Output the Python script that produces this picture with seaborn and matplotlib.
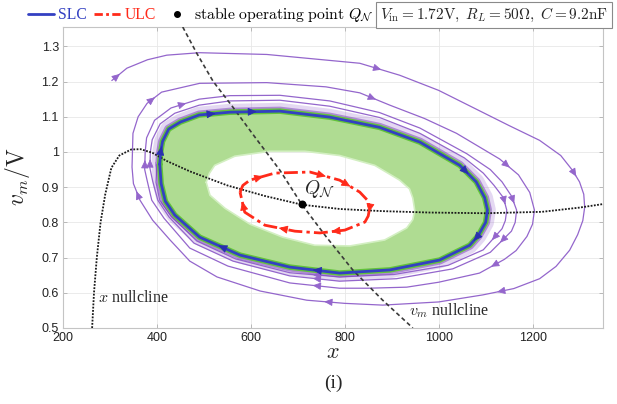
import numpy as np
import matplotlib
matplotlib.use("Agg")
import matplotlib.pyplot as plt
import seaborn as sns
from matplotlib.path import Path
from matplotlib.patches import PathPatch
from matplotlib.lines import Line2D

# ---------------- data ----------------
# stable limit cycle (outer edge of green band), clockwise from the left
slc_x = [406, 408, 412, 425, 450, 490, 555, 662, 768, 874, 960, 1045, 1080, 1098, 1104, 1100, 1084, 1066, 1002, 896, 789, 683, 577, 491, 438, 418, 409]
slc_y = [0.965, 1.000, 1.030, 1.065, 1.085, 1.105, 1.113, 1.116, 1.099, 1.070, 1.028, 0.962, 0.915, 0.870, 0.835, 0.800, 0.762, 0.735, 0.693, 0.665, 0.656, 0.673, 0.707, 0.758, 0.821, 0.860, 0.910]

# inner (white) boundary of the green band
inner_x = [505, 512, 523, 566, 640, 715, 789, 864, 917, 938, 945, 949, 945, 932, 885, 811, 736, 668, 598, 545, 513]
inner_y = [0.914, 0.940, 0.962, 0.988, 1.002, 1.002, 0.990, 0.962, 0.920, 0.895, 0.869, 0.835, 0.808, 0.784, 0.750, 0.733, 0.735, 0.758, 0.795, 0.840, 0.877]

# unstable limit cycle
ulc_x = [577, 583, 598, 651, 726, 789, 832, 849, 853, 850, 843, 800, 747, 694, 630, 587]
ulc_y = [0.886, 0.905, 0.920, 0.940, 0.943, 0.920, 0.886, 0.862, 0.840, 0.818, 0.801, 0.778, 0.770, 0.775, 0.792, 0.829]

# outer trajectory, turn by turn
loop1_x = [304, 336, 380, 421, 491, 634, 832, 917, 1000, 1072, 1150, 1215, 1260, 1285, 1300, 1309, 1311, 1307, 1296, 1279, 1250, 1215, 1160, 1094, 1000, 881, 800, 719, 620, 528, 470, 428, 391]
loop1_y = [1.203, 1.238, 1.262, 1.275, 1.282, 1.277, 1.252, 1.218, 1.175, 1.127, 1.075, 1.033, 0.990, 0.948, 0.915, 0.880, 0.843, 0.805, 0.765, 0.721, 0.675, 0.640, 0.612, 0.594, 0.574, 0.565, 0.570, 0.579, 0.605, 0.645, 0.690, 0.750, 0.806]
loop2_x = [364, 350, 347, 349, 360, 379, 410, 491, 634, 760, 832, 896, 970, 1038, 1130, 1170, 1194, 1204, 1200, 1188, 1165, 1140, 1087, 1000, 932, 850, 789, 683, 551, 470, 415, 389, 379]
loop2_y = [0.863, 0.910, 0.957, 1.053, 1.100, 1.138, 1.170, 1.195, 1.197, 1.185, 1.168, 1.133, 1.095, 1.053, 0.980, 0.935, 0.885, 0.835, 0.795, 0.760, 0.720, 0.695, 0.656, 0.630, 0.616, 0.613, 0.613, 0.628, 0.676, 0.727, 0.812, 0.863, 0.920]
loop3_x = [374, 375, 378, 395, 430, 490, 555, 662, 768, 874, 960, 1060, 1110, 1135, 1155, 1166, 1163, 1155, 1110, 1030, 910, 789, 683, 562, 479, 426, 402, 391]
loop3_y = [0.950, 1.000, 1.040, 1.090, 1.125, 1.150, 1.160, 1.161, 1.145, 1.112, 1.068, 0.995, 0.950, 0.915, 0.875, 0.835, 0.800, 0.775, 0.715, 0.668, 0.640, 0.633, 0.648, 0.690, 0.741, 0.815, 0.863, 0.917]
loop4_x = [385, 386, 390, 407, 438, 490, 555, 662, 768, 874, 960, 1055, 1095, 1118, 1138, 1145, 1142, 1135, 1095, 1020, 905, 789, 683, 568, 485, 430, 406, 398]
loop4_y = [0.955, 1.000, 1.035, 1.080, 1.110, 1.133, 1.145, 1.147, 1.130, 1.098, 1.053, 0.983, 0.940, 0.905, 0.870, 0.835, 0.805, 0.782, 0.722, 0.678, 0.652, 0.645, 0.657, 0.696, 0.747, 0.818, 0.863, 0.914]

# nullclines
xnull_x = [262, 266, 272, 280, 290, 303, 320, 345, 365, 390, 420, 470, 550, 630, 710, 790, 880, 980, 1100, 1220, 1300, 1350]
xnull_y = [0.50, 0.60, 0.70, 0.80, 0.88, 0.955, 0.99, 1.007, 1.008, 0.998, 0.975, 0.945, 0.905, 0.875, 0.850, 0.838, 0.832, 0.828, 0.826, 0.830, 0.842, 0.852]
vnull_x = [455, 485, 520, 562, 610, 662, 708, 760, 817, 880, 945]
vnull_y = [1.355, 1.280, 1.200, 1.127, 1.040, 0.948, 0.852, 0.760, 0.665, 0.580, 0.500]

# stable operating point
q_x, q_y = 708, 0.852

xticks = [200, 400, 600, 800, 1000, 1200]
yticks = [0.5, 0.6, 0.7, 0.8, 0.9, 1.0, 1.1, 1.2, 1.3]
ytick_labels = ["0.5", "0.6", "0.7", "0.8", "0.9", "1", "1.1", "1.2", "1.3"]

# ---------------- styling ----------------
sns.set_theme(style="white")
plt.rcParams["mathtext.fontset"] = "cm"
plt.rcParams["font.family"] = ["Liberation Serif", "DejaVu Serif"]

C_SLC = "#3340c2"
C_ULC = "#ff2a1a"
C_PUR = "#9466cc"
C_GREEN = "#afdc92"
C_GREEN_EDGE = "#62c23a"

fig = plt.figure(figsize=(6.17, 4.04), dpi=100)
ax = fig.add_axes([63 / 617, 76 / 404, 540 / 617, 301 / 404])


def closed(xs, ys):
    return list(xs) + [xs[0]], list(ys) + [ys[0]]


def line(xs, ys, **kw):
    sns.lineplot(x=list(xs), y=list(ys), sort=False, estimator=None, ax=ax, legend=False, **kw)


def arrow(xs, ys, i, color, ms=9, z=9):
    x0, y0, x1, y1 = xs[i], ys[i], xs[i + 1], ys[i + 1]
    xm, ym = (x0 + x1) / 2, (y0 + y1) / 2
    dx, dy = (x1 - x0) * 0.04, (y1 - y0) * 0.04
    ax.annotate("", xy=(xm + dx, ym + dy), xytext=(xm - dx, ym - dy),
                arrowprops=dict(arrowstyle="-|>,head_length=0.55,head_width=0.25",
                                color=color, lw=0.6, shrinkA=0, shrinkB=0,
                                mutation_scale=ms), zorder=z)


# outer spiral trajectory
traj_x = loop1_x + loop2_x + loop3_x + loop4_x + [slc_x[0] - 6]
traj_y = loop1_y + loop2_y + loop3_y + loop4_y + [slc_y[0]]
line(traj_x, traj_y, color=C_PUR, lw=0.9, zorder=2)

sx, sy = closed(slc_x, slc_y)
# dense purple trajectories hugging the SLC
line(sx, sy, color=C_PUR, lw=12, alpha=0.25, zorder=2.3)
line(sx, sy, color="#7a3fb8", lw=6.5, alpha=0.5, zorder=2.4)

# green band between inner boundary and SLC
verts = list(zip(sx, sy)) + list(zip(inner_x[::-1] + [inner_x[-1]], inner_y[::-1] + [inner_y[-1]]))
codes = ([Path.MOVETO] + [Path.LINETO] * (len(sx) - 2) + [Path.CLOSEPOLY] +
         [Path.MOVETO] + [Path.LINETO] * (len(inner_x) - 1) + [Path.CLOSEPOLY])
ax.add_patch(PathPatch(Path(verts, codes), facecolor=C_GREEN, edgecolor="none", zorder=3))
ix, iy = closed(inner_x, inner_y)
line(ix, iy, color="#d3efc2", lw=1.2, zorder=3.1)
line(sx, sy, color=C_GREEN_EDGE, lw=4, zorder=3.2)

# nullclines
line(xnull_x, xnull_y, color="#1a1a1a", lw=1.3, linestyle=(0, (1, 0.8)), zorder=4)
line(vnull_x, vnull_y, color="#3a3a3a", lw=1.2, linestyle=(0, (2.5, 1.8)), zorder=4)

# limit cycles
ux, uy = closed(ulc_x, ulc_y)
line(ux, uy, color=C_ULC, lw=2.0, linestyle=(0, (5, 1.5, 1.2, 1.5)), zorder=5)
line(sx, sy, color=C_SLC, lw=2.0, zorder=6)

ax.scatter([q_x], [q_y], s=22, color="black", zorder=7)

# direction arrows
for i in [0, 6, 13, 22, 26]:
    arrow(loop1_x, loop1_y, i, C_PUR)
for i in [0, 5, 10, 14, 21, 26]:
    arrow(loop2_x, loop2_y, i, C_PUR)
for i in [0, 4, 14, 17, 21]:
    arrow(loop3_x, loop3_y, i, C_PUR)
for i in [0, 14, 17, 21]:
    arrow(loop4_x, loop4_y, i, C_PUR)
for i in [1, 5, 6, 11, 16, 20, 22]:
    arrow(sx, sy, i, "#2a2fb0", ms=10)
for i in [2, 4, 5, 8, 11, 13, 15]:
    arrow(ux, uy, i, C_ULC, ms=10)

# annotations
ax.text(q_x + 6, q_y + 0.012, r"$Q_{\mathcal{N}}$", fontsize=14, ha="left", va="bottom", zorder=10)
ax.text(274, 0.585, r"$x$ nullcline", fontsize=11.5, ha="left", va="center", zorder=10)
ax.text(936, 0.548, r"$v_m$ nullcline", fontsize=11.5, ha="left", va="center", zorder=10)

# axes formatting
ax.set_xlim(200, 1350)
ax.set_ylim(0.5, 1.355)
ax.set_xticks(xticks)
ax.set_xticklabels([str(t) for t in xticks])
ax.set_yticks(yticks)
ax.set_yticklabels(ytick_labels)
ax.tick_params(direction="in", length=3, width=0.6, color="#b0b0b0",
               labelsize=9, labelcolor="#222222", top=True, right=True,
               bottom=True, left=True, pad=3)
for lbl in ax.get_xticklabels() + ax.get_yticklabels():
    lbl.set_fontfamily("Liberation Sans")
ax.grid(True, color="#e8e8e8", lw=0.6)
ax.set_axisbelow(True)
for s in ax.spines.values():
    s.set_color("#c4c4c4")
    s.set_linewidth(0.8)
ax.set_xlabel("")
ax.set_ylabel("")

fig.text(18 / 617, 1 - 177 / 404, r"$v_m/\mathrm{V}$", rotation=90, fontsize=17, ha="center", va="center")
fig.text(333 / 617, 1 - 353 / 404, r"$x$", fontsize=16, ha="center", va="center")
fig.text(333 / 617, 1 - 383 / 404, "(i)", fontsize=14, ha="center", va="center")

# legend
handles = [Line2D([], [], color=C_SLC, lw=2),
           Line2D([], [], color=C_ULC, lw=2, linestyle=(0, (3, 1.2, 1, 1.2))),
           Line2D([], [], color="black", marker="o", markersize=4, linestyle="none")]
labels = ["SLC", "ULC", r"$\mathrm{stable\ operating\ point}\ Q_{\mathcal{N}}$"]
fig.legend(handles, labels, loc="center left", bbox_to_anchor=(0.045, 1 - 15 / 404),
           ncol=3, frameon=False, fontsize=11.3, handlelength=1.7, handletextpad=0.25,
           columnspacing=0.45, borderaxespad=0, borderpad=0,
           labelcolor=[C_SLC, C_ULC, "black"])
fig.text(380 / 617, 1 - 15 / 404,
         r"$V_{\mathrm{in}}=1.72\mathrm{V},\ R_L=50\Omega,\ C=9.2\mathrm{nF}$",
         fontsize=11, ha="left", va="center",
         bbox=dict(boxstyle="square,pad=0.25", fc="white", ec="#8a8a8a", lw=0.8))

fig.savefig("out.png", dpi=100)
